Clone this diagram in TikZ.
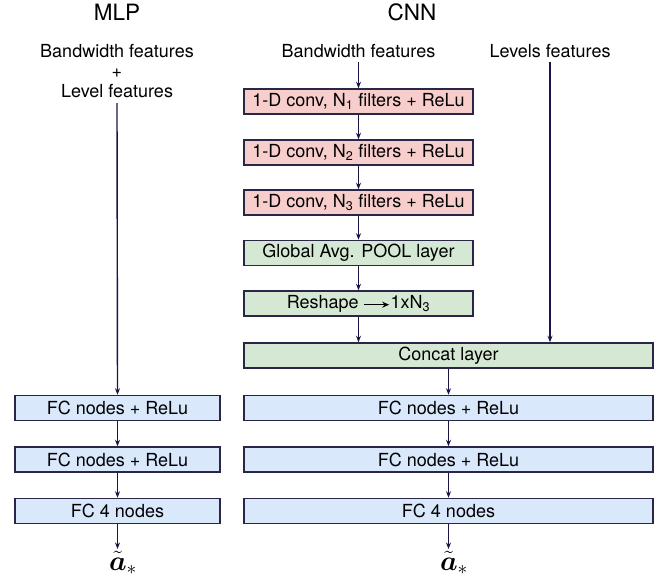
\documentclass[tikz,border=0pt]{standalone}
\usepackage{fontspec}
\setmainfont{TeX Gyre Heros}
\usepackage{amsmath,bm}
\usetikzlibrary{arrows.meta}

\definecolor{edgec}{HTML}{2A2648}
\definecolor{arrowc}{HTML}{1B1447}
\definecolor{convfill}{HTML}{F8CECC}
\definecolor{poolfill}{HTML}{D5E8D4}
\definecolor{fcfill}{HTML}{DAE8FC}

\tikzset{
  layer/.style={draw=edgec, line width=1.5pt, minimum height=25pt, inner sep=0pt,
    font=\fontsize{18}{20}\selectfont},
  convbox/.style={layer, fill=convfill, minimum width=229pt},
  poolbox/.style={layer, fill=poolfill, minimum width=229pt},
  widepool/.style={layer, fill=poolfill, minimum width=409pt},
  fcwide/.style={layer, fill=fcfill, minimum width=409pt},
  fcnarrow/.style={layer, fill=fcfill, minimum width=205pt},
  title/.style={font=\fontsize{22.5}{26}\selectfont, anchor=base, inner sep=0pt},
  inlabel/.style={font=\fontsize{18}{20.2}\selectfont, inner sep=0pt},
  outlabel/.style={font=\fontsize{24}{28}\selectfont, anchor=base, inner sep=0pt},
  conn/.style={draw=arrowc, line width=1.4pt, -{Stealth[length=6.5pt,width=5pt]}},
}

% small filled-head arrow used inside the reshape label
\newcommand{\reshapearrow}{\tikz[baseline=-3.4pt]\draw[black, line width=1.1pt,
  -{Stealth[length=7pt,width=6pt]}] (0pt,0pt) -- (25pt,0pt);}
% network output symbol
\newcommand{\netout}{\scalebox{1.12}{$\tilde{\bm{a}}_*$}}

\begin{document}
\begin{tikzpicture}[x=1pt,y=-1pt]
\useasboundingbox (0,0) rectangle (672,580);

% column titles
\node[title] (tmlp) at (117,20.5) {MLP};
\node[title] (tcnn) at (412,20.5) {CNN};

% ---------------- MLP column ----------------
% base anchor of a multi-line node sits on its last line
\node[inlabel, align=center, anchor=base] (mlpin) at (117,97.7)
  {Bandwidth features\\+\\Level features};
\node[fcnarrow] (mfc1) at (117.5,408) {FC nodes + ReLu};
\node[fcnarrow] (mfc2) at (117.5,459.5) {FC nodes + ReLu};
\node[fcnarrow] (mfc3) at (117.5,511) {FC 4 nodes};
\node[outlabel] (mout) at (123,570) {\netout};

\draw[conn] ([yshift=-5pt]mlpin.south) -- (mfc1.north);
\draw[conn] (mfc1) -- (mfc2);
\draw[conn] (mfc2) -- (mfc3);
\draw[conn] (mfc3.south) -- ([yshift=21pt]mfc3.south |- mout.base);

% ---------------- CNN column ----------------
\node[inlabel, anchor=base] (bw) at (358.5,57.3) {Bandwidth features};
\node[inlabel, anchor=base] (lv) at (550,57.3) {Levels features};

\node[convbox] (c1) at (358.5,101.5) {1-D conv, N\textsubscript{1} filters + ReLu};
\node[convbox] (c2) at (358.5,152.5) {1-D conv, N\textsubscript{2} filters + ReLu};
\node[convbox] (c3) at (358.5,202.5) {1-D conv, N\textsubscript{3} filters + ReLu};
\node[poolbox] (gap) at (358.5,253) {Global Avg. POOL layer};
\node[poolbox] (resh) at (358.5,303.5) {Reshape \reshapearrow\kern1pt1xN\textsubscript{3}};
\node[widepool] (cat) at (448.5,355.5) {Concat layer};
\node[fcwide] (fc1) at (448.5,408) {FC nodes + ReLu};
\node[fcwide] (fc2) at (448.5,459.5) {FC nodes + ReLu};
\node[fcwide] (fc3) at (448.5,511) {FC 4 nodes};
\node[outlabel] (cout) at (454,570) {\netout};

\draw[conn] ([yshift=-4pt]bw.south) -- (c1.north);
\draw[conn] (c1) -- (c2);
\draw[conn] (c2) -- (c3);
\draw[conn] (c3) -- (gap);
\draw[conn] (gap) -- (resh);
\draw[conn] (resh.south) -- (resh.south |- cat.north);
\draw[conn] ([yshift=-4pt]lv.south) -- (lv.south |- cat.north);
\draw[conn] (cat) -- (fc1);
\draw[conn] (fc1) -- (fc2);
\draw[conn] (fc2) -- (fc3);
\draw[conn] (fc3.south) -- ([yshift=21pt]fc3.south |- cout.base);
\end{tikzpicture}
\end{document}
